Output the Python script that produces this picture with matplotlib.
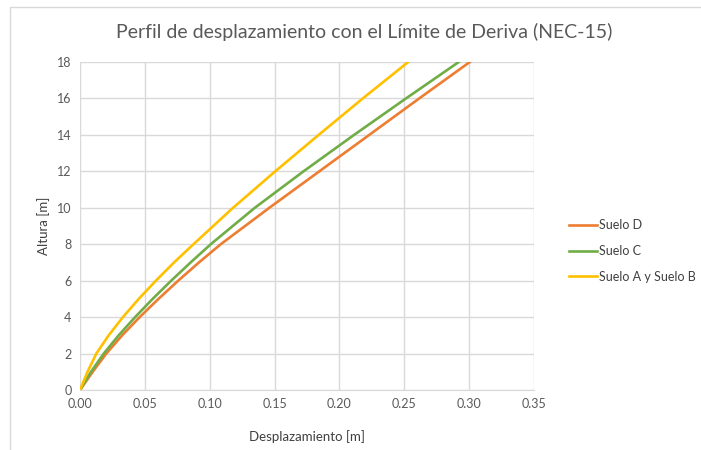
import matplotlib.pyplot as plt
from matplotlib.patches import Rectangle

plt.rcParams['font.family'] = ['Lato', 'DejaVu Sans']

# alturas [m] y desplazamientos [m] por tipo de suelo
altura = [0, 1, 2, 3, 4, 5, 6, 7, 8, 10, 12, 14, 16, 18]
suelo_d = [0, 0.0098, 0.0203, 0.0325, 0.046, 0.0605, 0.0757, 0.0917, 0.1085,
           0.146, 0.1845, 0.223, 0.2615, 0.3005]
suelo_c = [0, 0.0085, 0.0183, 0.0298, 0.0425, 0.056, 0.0703, 0.0853, 0.1008,
           0.1348, 0.1723, 0.2113, 0.2513, 0.292]
suelo_ab = [0, 0.0058, 0.0126, 0.0221, 0.0331, 0.0453, 0.0585, 0.0725, 0.0875,
            0.118, 0.1505, 0.184, 0.218, 0.253]

x_ticks = [0, 0.05, 0.10, 0.15, 0.20, 0.25, 0.30, 0.35]
y_ticks = list(range(0, 19, 2))

fig = plt.figure(figsize=(7.01, 4.5), dpi=100)
ax = fig.add_axes([80 / 701, 1 - 390 / 450, 454 / 701, 328 / 450])

# marco del grafico
fig.patches.append(Rectangle((9.5 / 701, -0.1), 1.2, 1 - 6.5 / 450 + 0.1,
                             transform=fig.transFigure, fill=False,
                             edgecolor='#d9d9d9', linewidth=1))

ax.plot(suelo_d, altura, color='#ED7D31', lw=1.9, label='Suelo D')
ax.plot(suelo_c, altura, color='#70AD47', lw=1.9, label='Suelo C')
ax.plot(suelo_ab, altura, color='#FFC000', lw=1.9, label='Suelo A y Suelo B')

ax.set_xlim(0, 0.35)
ax.set_ylim(0, 18)
ax.set_xticks(x_ticks)
ax.set_xticklabels([f'{v:.2f}' for v in x_ticks])
ax.set_yticks(y_ticks)
ax.grid(True, color='#d9d9d9', lw=1)
ax.set_axisbelow(True)
for s in ['top', 'right', 'left']:
    ax.spines[s].set_visible(False)
ax.spines['bottom'].set_color('#d9d9d9')
ax.tick_params(length=0, labelsize=9, colors='#595959', pad=6)

fig.text(364 / 701, 1 - 32 / 450,
         'Perfil de desplazamiento con el Límite de Deriva (NEC-15)',
         fontsize=14, color='#595959', ha='center', va='center')
ax.set_xlabel('Desplazamiento [m]', fontsize=9.5, color='#404040', labelpad=14)
ax.set_ylabel('Altura [m]', fontsize=9.5, color='#404040', labelpad=5)

ax.legend(loc='center left', bbox_to_anchor=(1.053, 0.424), frameon=False,
          fontsize=9, labelcolor='#404040', handlelength=2.2,
          handletextpad=0.2, labelspacing=1.1)

fig.savefig('out.png', dpi=100)
